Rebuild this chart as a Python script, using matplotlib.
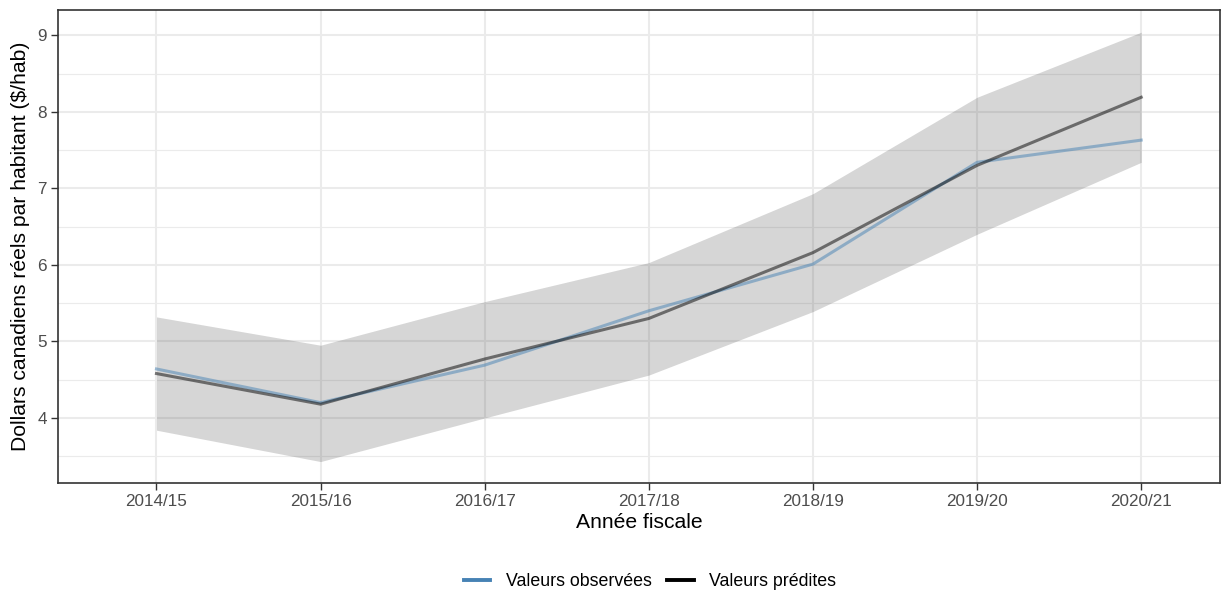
import matplotlib
matplotlib.use("Agg")
import matplotlib.pyplot as plt
from matplotlib.lines import Line2D
import numpy as np

years = ["2014/15", "2015/16", "2016/17", "2017/18", "2018/19", "2019/20", "2020/21"]
observed = [4.64, 4.20, 4.69, 5.40, 6.01, 7.34, 7.63]
predicted = [4.58, 4.18, 4.77, 5.30, 6.16, 7.30, 8.19]
lower = [3.84, 3.43, 4.00, 4.56, 5.39, 6.40, 7.34]
upper = [5.32, 4.95, 5.52, 6.03, 6.93, 8.19, 9.04]

plt.rcParams['font.family'] = ['Liberation Sans', 'DejaVu Sans']

fig = plt.figure(figsize=(12.28, 5.93), dpi=100)
ax = fig.add_axes([58/1228, 1-483/593, (1220-58)/1228, (483-10)/593])

x = np.arange(1, len(years)+1)
ax.fill_between(x, lower, upper, color="#333333", alpha=0.2, linewidth=0, zorder=2)
ax.plot(x, observed, color="#4682B4", alpha=0.5, lw=2.2, zorder=3)
ax.plot(x, predicted, color="black", alpha=0.5, lw=2.2, zorder=4)

ax.set_xlim(0.40, 7.48)
ax.set_ylim(3.15, 9.33)
ax.set_xticks(x)
ax.set_xticklabels(years)
ax.set_yticks([4, 5, 6, 7, 8, 9])
ax.set_yticks([3.5, 4.5, 5.5, 6.5, 7.5, 8.5], minor=True)
ax.grid(True, which='major', color="#EBEBEB", lw=1.5, zorder=0)
ax.grid(True, which='minor', axis='y', color="#EBEBEB", lw=0.8, zorder=0)
ax.tick_params(axis='both', which='major', colors="#333333", length=5, width=1,
               labelsize=12.3, labelcolor="#4D4D4D", pad=3)
ax.tick_params(axis='both', which='minor', length=0)
for s in ax.spines.values():
    s.set_color("#333333")
    s.set_linewidth(1.2)
ax.set_axisbelow(True)

ax.set_xlabel("Année fiscale", fontsize=15.2, color="black", labelpad=3)
ax.set_ylabel(r"Dollars canadiens réels par habitant (\$/hab)", fontsize=15.2, color="black", labelpad=5)

handles = [Line2D([0], [0], color="#4682B4", lw=2.8),
           Line2D([0], [0], color="black", lw=2.8)]
fig.legend(handles, ["Valeurs observées", "Valeurs prédites"], loc='center',
           bbox_to_anchor=(650/1228, 1-582/593), ncol=2, frameon=False, fontsize=12.8,
           handlelength=1.5, handletextpad=0.85, columnspacing=0.9)

fig.savefig("out.png", dpi=100)
